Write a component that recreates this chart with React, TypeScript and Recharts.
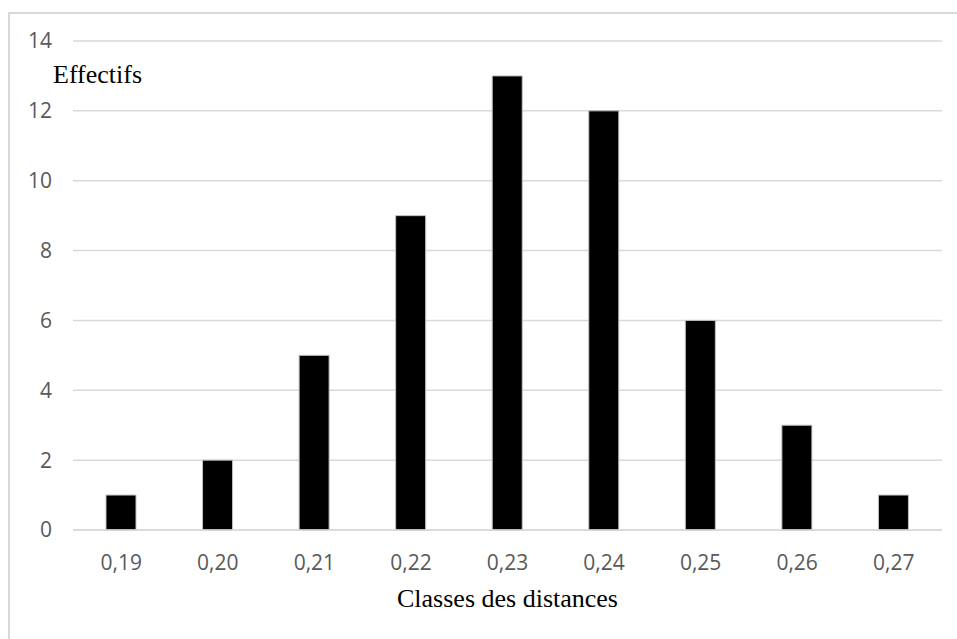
import React from 'react';
import { BarChart, Bar, XAxis, YAxis, CartesianGrid, Label } from 'recharts';

const categories = ['0,19', '0,20', '0,21', '0,22', '0,23', '0,24', '0,25', '0,26', '0,27'];
const effectifs = [1, 2, 5, 9, 13, 12, 6, 3, 1];
const yTicks = [0, 2, 4, 6, 8, 10, 12, 14];
const yLabel = 'Effectifs';
const xLabel = 'Classes des distances';

const data = categories.map((c, i) => ({ classe: c, effectif: effectifs[i] }));

const tickStyle = { fontFamily: '"Open Sans", sans-serif', fontSize: 21, fill: '#595959' };
const serif = '"Liberation Serif", "Times New Roman", serif';

export default function App() {
  return (
    <div style={{ position: 'absolute', left: 0, top: 0, width: 957, height: 639, overflow: 'hidden', background: '#fff' }}>
      <div
        style={{
          position: 'absolute',
          left: 8,
          top: 12,
          width: 970,
          height: 700,
          border: '2px solid #d9d9d9',
          boxSizing: 'border-box',
        }}
      />
      <div style={{ position: 'absolute', left: 0, top: 0 }}>
        <BarChart
          width={957}
          height={639}
          data={data}
          margin={{ top: 41, right: 15, bottom: 79, left: 0 }}
          barSize={30}
        >
          <CartesianGrid horizontal vertical={false} stroke="#d9d9d9" strokeWidth={1.5} />
          <XAxis
            dataKey="classe"
            height={30}
            tick={tickStyle}
            tickLine={false}
            tickSize={0}
            tickMargin={25}
            axisLine={{ stroke: '#d9d9d9', strokeWidth: 1.5 }}
            interval={0}
          >
            <Label
              value={xLabel}
              position="insideBottom"
              content={(props: any) => {
                const vb = props.viewBox || {};
                const cx = vb.x + vb.width / 2;
                return (
                  <text x={cx} y={607} textAnchor="middle" fontFamily={serif} fontSize={26} fill="#000">
                    {xLabel}
                  </text>
                );
              }}
            />
          </XAxis>
          <YAxis
            width={73}
            domain={[0, 14]}
            ticks={yTicks}
            tick={tickStyle}
            tickLine={false}
            tickSize={0}
            tickMargin={21}
            axisLine={false}
          >
            <Label
              value={yLabel}
              content={() => (
                <text x={53} y={83} textAnchor="start" fontFamily={serif} fontSize={26} fill="#000">
                  {yLabel}
                </text>
              )}
            />
          </YAxis>
          <Bar dataKey="effectif" fill="#000" stroke="#bfbfbf" strokeWidth={1} isAnimationActive={false} />
        </BarChart>
      </div>
    </div>
  );
}
